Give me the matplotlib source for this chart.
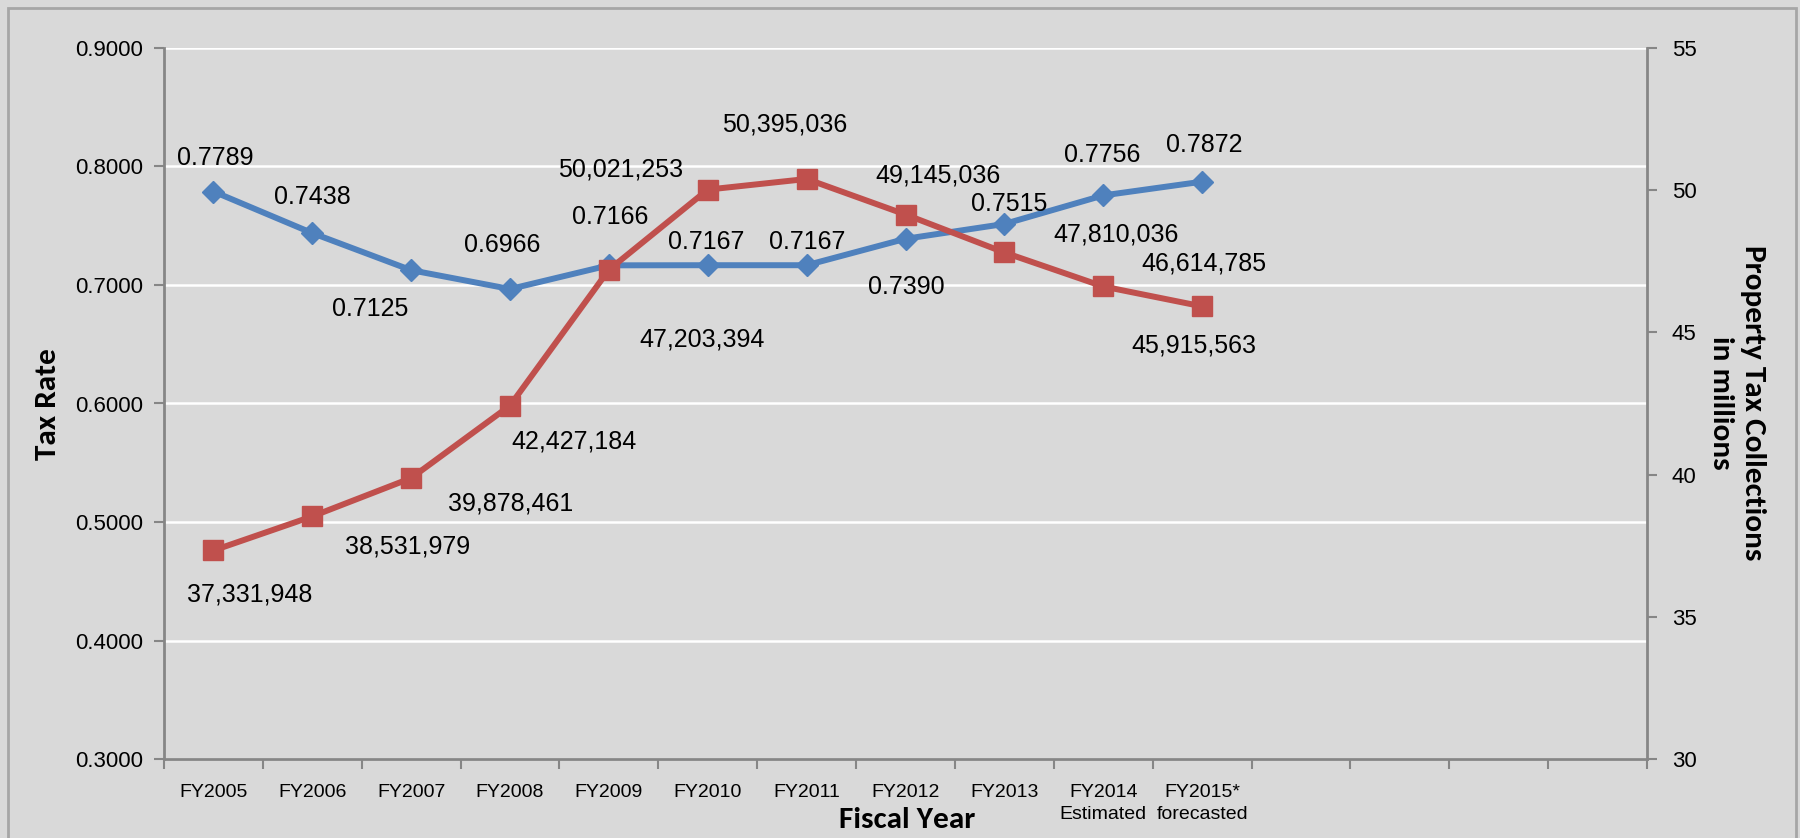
import numpy as np
import matplotlib
matplotlib.use("Agg")
import matplotlib.pyplot as plt
from matplotlib.patches import Rectangle

# ---- data ----
categories = ["FY2005", "FY2006", "FY2007", "FY2008", "FY2009", "FY2010",
              "FY2011", "FY2012", "FY2013", "FY2014\nEstimated",
              "FY2015*\nforecasted", "", "", "", ""]
tax_rate = [0.7789, 0.7438, 0.7125, 0.6966, 0.7166, 0.7167, 0.7167,
            0.7390, 0.7515, 0.7756, 0.7872]
tax_rate_labels = ["0.7789", "0.7438", "0.7125", "0.6966", "0.7166", "0.7167",
                   "0.7167", "0.7390", "0.7515", "0.7756", "0.7872"]
collections = [37.331948, 38.531979, 39.878461, 42.427184, 47.203394,
               50.021253, 50.395036, 49.145036, 47.810036, 46.614785, 45.915563]
collection_labels = ["37,331,948", "38,531,979", "39,878,461", "42,427,184",
                     "47,203,394", "50,021,253", "50,395,036", "49,145,036",
                     "47,810,036", "46,614,785", "45,915,563"]

# label offsets (pixels, relative to the point; +y is up)
rate_offsets = [(2, 34), (0, 36), (-41, -39), (-8, 44), (1, 48), (-2, 23),
                (1, 23), (1, -48), (5, 20), (-1, 40), (2, 37)]
coll_offsets = [(36, -44), (95, -30), (99, -25), (64, -36), (93, -70),
                (-87, 20), (-22, 54), (33, 39), (112, 18), (101, 23), (-8, -39)]

BG = "#d9d9d9"
BLUE = "#4f81bd"
RED = "#c0504d"
AXC = "#868686"

fig = plt.figure(figsize=(18, 8.38), dpi=100, facecolor=BG)
fig.patches.append(Rectangle((8 / 1800, -0.05), 1788 / 1800, 1.05 - 8 / 838,
                             transform=fig.transFigure, fill=False,
                             edgecolor="#a6a6a6", lw=2))

ax = fig.add_axes([164 / 1800, 1 - 759 / 838, (1647 - 164) / 1800, (759 - 48) / 838])
ax.set_facecolor(BG)
n = len(categories)
x_all = np.arange(n)
ax.set_xlim(-0.5, n - 0.5)
ax.set_ylim(0.3, 0.9)
ax.set_yticks(np.arange(0.3, 0.91, 0.1))
ax.set_yticklabels([f"{v:.4f}" for v in np.arange(0.3, 0.91, 0.1)],
                   fontsize=16, family=["Liberation Sans"])
ax.yaxis.grid(True, color="white", lw=1.8)
ax.set_axisbelow(True)

# x ticks: marks at category boundaries, labels at centres
ax.set_xticks(np.arange(-0.5, n, 1.0))
ax.set_xticklabels([])
ax.tick_params(axis="x", which="major", length=7, width=1.5, color=AXC, direction="out")
ax.set_xticks(x_all, minor=True)
ax.set_xticklabels(categories, minor=True, fontsize=14,
                   family=["Liberation Sans Narrow", "Liberation Sans"], linespacing=1.35)
ax.tick_params(axis="x", which="minor", length=0, pad=18)
ax.tick_params(axis="y", length=7, width=1.5, color=AXC, pad=8)

for s in ["top", "right"]:
    ax.spines[s].set_visible(False)
for s in ["left", "bottom"]:
    ax.spines[s].set_color(AXC)
    ax.spines[s].set_linewidth(2)

xs = np.arange(len(tax_rate))
ax.plot(xs, tax_rate, color=BLUE, lw=4.3, marker="D", ms=11.5,
        mec=BLUE, mfc=BLUE, zorder=3)
for xi, yi, lab, off in zip(xs, tax_rate, tax_rate_labels, rate_offsets):
    ax.annotate(lab, (xi, yi), xytext=off, textcoords="offset pixels",
                ha="center", va="center", fontsize=18, family=["Liberation Sans"])

ax2 = ax.twinx()
ax2.set_ylim(30, 55)
ax2.set_yticks(np.arange(30, 56, 5))
ax2.set_yticklabels([str(v) for v in range(30, 56, 5)], fontsize=16,
                    family=["Liberation Sans"])
ax2.tick_params(axis="y", length=7, width=1.5, color=AXC, pad=11)
for s in ["top", "left", "bottom"]:
    ax2.spines[s].set_visible(False)
ax2.spines["right"].set_color(AXC)
ax2.spines["right"].set_linewidth(2)
ax2.plot(xs, collections, color=RED, lw=4.3, marker="s", ms=15,
         mec=RED, mfc=RED, zorder=3)
for xi, yi, lab, off in zip(xs, collections, collection_labels, coll_offsets):
    ax2.annotate(lab, (xi, yi), xytext=off, textcoords="offset pixels",
                 ha="center", va="center", fontsize=18, family=["Liberation Sans"])

title_font = dict(fontsize=22.5, fontweight="bold", family=["Carlito", "Lato", "DejaVu Sans"])
fig.text(48 / 1800, 1 - 404 / 838, "Tax Rate", rotation=90, ha="center", va="center",
         **title_font)
fig.text(907 / 1800, 1 - 820 / 838, "Fiscal Year", ha="center", va="center", **title_font)
fig.text(1737 / 1800, 1 - 403 / 838, "Property Tax Collections\nin millions",
         rotation=270, ha="center", va="center", multialignment="center",
         linespacing=1.25, **title_font)

fig.savefig("out.png", dpi=100, facecolor=BG)
